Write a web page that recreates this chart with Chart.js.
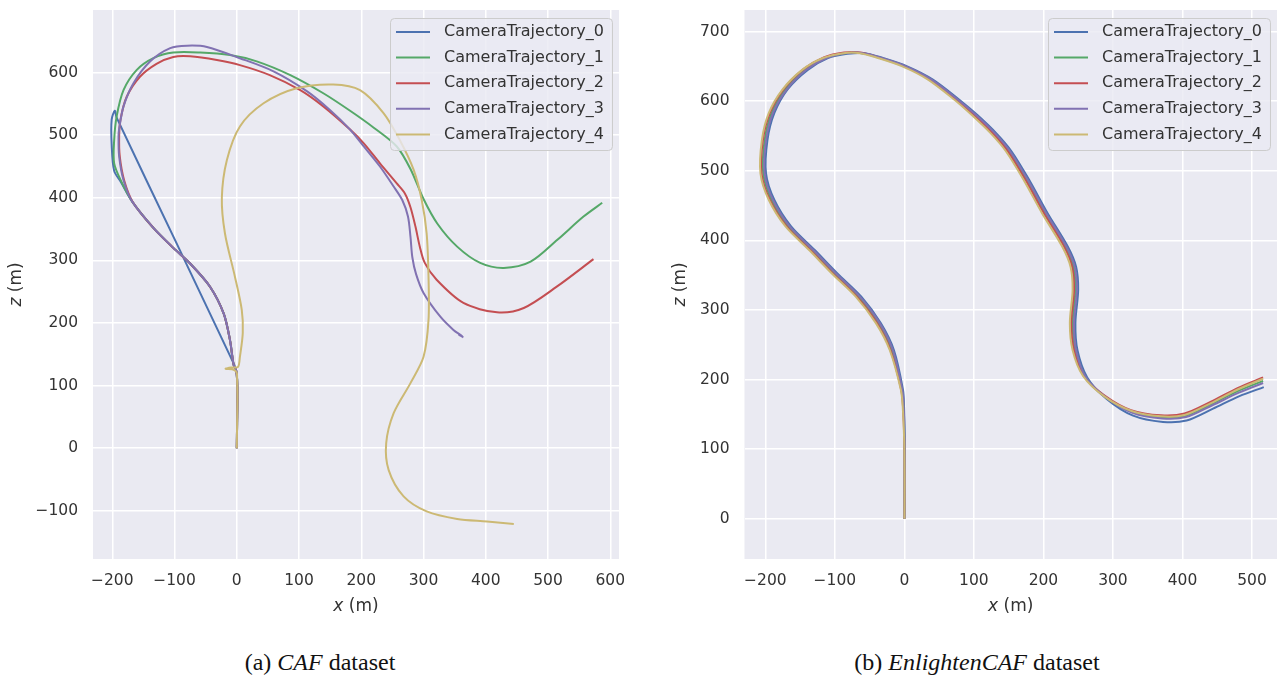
<!DOCTYPE html>
<html>
<head>
<meta charset="utf-8">
<script src="https://cdn.jsdelivr.net/npm/chart.js@4.4.1/dist/chart.umd.min.js"></script>
<style>
  body { margin: 0; background: #fff; width: 1277px; height: 675px; position: relative; overflow: hidden; }
  .panel { position: absolute; top: 0; height: 625px; }
  .caption { position: absolute; top: 649px; font-family: "Liberation Serif", serif; font-size: 24px; line-height: 26px; color: #111; transform: translateX(-50%); white-space: nowrap; }
</style>
</head>
<body>
<div class="panel" style="left:0;width:640px"><canvas id="cafChart" width="640" height="625"></canvas></div>
<div class="panel" style="left:640px;width:637px"><canvas id="enlChart" width="637" height="625"></canvas></div>
<div class="caption" style="left:320px">(a) <i>CAF</i> dataset</div>
<div class="caption" style="left:977px">(b) <i>EnlightenCAF</i> dataset</div>
<script>
const trajLabels = ["CameraTrajectory_0", "CameraTrajectory_1", "CameraTrajectory_2", "CameraTrajectory_3", "CameraTrajectory_4"];
const trajColors = ["#4C72B0", "#55A868", "#C44E52", "#8172B2", "#CCB974"];

const xTicksCaf = [-200, -100, 0, 100, 200, 300, 400, 500, 600];
const zTicksCaf = [-100, 0, 100, 200, 300, 400, 500, 600];
const xTicksEnl = [-200, -100, 0, 100, 200, 300, 400, 500];
const zTicksEnl = [0, 100, 200, 300, 400, 500, 600, 700];

// (a) CAF dataset, [x, z] in metres
const caf0 = [[0,0],[0.5,40],[1,80],[0.5,110],[-1,124],[-5,133],[-11,173],[-21,215],[-43,258],[-75,295],[-102,320],[-134,352],[-168,394],[-186,425],[-197,443],[-201,485],[-201,525],[-196,539],[-193,528],[-98,330],[-3,131]];
const caf1 = [[0,0],[0.5,40],[1,80],[0.5,110],[-1,124],[-5,133],[-11,173],[-21,215],[-43,258],[-75,295],[-102,320],[-134,352],[-168,394],[-185,425],[-197,455],[-197,492],[-193,530],[-182,572],[-161,604],[-134,623],[-102,632],[-59,632],[-11,628],[32,618],[86,596],[139,567],[182,539],[220,512],[257,482],[279,446],[300,398],[322,359],[354,322],[391,296],[429,288],[472,298],[515,333],[557,370],[587,392]];
const caf2 = [[0,0],[0.5,40],[1,80],[0.5,110],[-1,124],[-5,133],[-11,173],[-21,215],[-43,258],[-75,295],[-102,320],[-134,352],[-167,393],[-181,428],[-188,466],[-189,498],[-187,524],[-177,561],[-156,593],[-129,614],[-102,625],[-75,626],[-32,620],[5,612],[53,596],[102,572],[139,546],[182,509],[204,487],[230,455],[257,423],[270,407],[279,385],[287,354],[294,322],[302,296],[321,269],[364,232],[418,217],[461,224],[514,258],[573,302]];
const caf3 = [[0,0],[0.5,40],[1,80],[0.5,110],[-1,124],[-5,133],[-11,173],[-21,215],[-43,258],[-75,295],[-102,320],[-134,352],[-168,394],[-182,428],[-189,466],[-190,498],[-189,510],[-182,546],[-166,583],[-139,618],[-107,639],[-80,643],[-48,641],[5,623],[59,602],[113,570],[150,540],[182,509],[204,482],[230,450],[252,418],[266,396],[275,370],[279,338],[282,305],[288,278],[300,248],[327,210],[348,189],[362,179],[357,181],[364,177]];
const caf4 = [[0,0],[0.5,40],[1,80],[0.5,110],[0,120],[-4,125],[-18,127],[-8,129],[2,130],[5,146],[9.6,184],[8,221],[-3,274],[-19,343],[-24,400],[-16,460],[5,514],[43,551],[96,575],[155,581],[198,572],[236,535],[262,492],[284,445],[297,397],[305,343],[308,274],[308,205],[300,146],[279,104],[252,56],[240,8],[244,-35],[268,-77],[305,-101],[354,-113],[402,-117],[445,-121]];

// (b) EnlightenCAF dataset, [x, z] in metres
const enl0 = [[0,0],[0.3,50],[0.5,113],[-0.5,161],[-2,185],[-15,242],[-34,281],[-62,319],[-96,352],[-129,386],[-163,420],[-187,458],[-199,496],[-197,544],[-187,583],[-168,617],[-139,645],[-110,662],[-82,668],[-57,669],[-31,662],[4,650],[41,631],[79,602],[105,580],[132,554],[154,528],[180,486],[206,439],[235,391],[247,362],[250,329],[246,281],[249,242],[263,203],[291,172],[329,148],[372,139],[406,141],[444,158],[482,176],[517,189]];
const enl1 = [[0,0],[0.3,50],[0,113],[-1.4,161],[-3.7,185],[-18,242],[-37,281],[-66,319],[-100,352],[-133,386],[-167,420],[-191,458],[-203,496],[-201,544],[-191,583],[-172,616],[-143,645],[-114,662],[-85,669],[-61,669],[-35,662],[0,650],[37,631],[75,602],[101,580],[128,554],[150,528],[176,486],[202,439],[231,391],[243,362],[246,329],[242,281],[246,242],[260,204],[289,175],[327,154],[370,146],[404,148],[442,165],[481,184],[516,198]];
const enl2 = [[0,0],[0.3,50],[-0.2,113],[-2,161],[-4.5,185],[-20,242],[-39.5,281],[-68.5,319],[-102.5,352],[-135.5,386],[-169.5,420],[-193.5,458],[-205.5,496],[-203.5,544],[-193.5,583],[-174,617],[-145,646],[-116,663],[-87,670],[-63,670],[-37,663],[-2,651],[35,632],[73,603],[99,581],[126,555],[148,529],[174,487],[200,440],[229,392],[241,363],[244,329],[240,281],[244,242],[258,205],[288,177],[326,156],[369,148.5],[403,151],[441,168],[480,188],[516,203]];
const enl3 = [[0,0],[0.3,50],[0.2,113],[-1,161],[-3,185],[-16.5,242],[-35.5,281],[-64,319],[-98,352],[-131,386],[-165,420],[-189,458],[-201,496],[-199,544],[-189,583],[-170,616],[-141,645],[-112,662],[-84,669],[-59,669],[-33,662],[2,650],[39,631],[77,602],[103,580],[130,554],[152,528],[178,486],[204,439],[233,391],[245,362],[248,329],[244,281],[247,242],[261,203],[290,174],[328,152],[371,144],[405,146],[443,163],[481,181],[516,195]];
const enl4 = [[0,0],[0.3,50],[-0.3,113],[-2.4,161],[-5,185],[-21,242],[-41,281],[-70,319],[-104,352],[-137,386],[-171,420],[-195,458],[-207,496],[-205,544],[-195,583],[-176,616],[-147,645],[-117,662],[-88,669],[-64,669],[-38,662],[-3,650],[34,631],[72,602],[97,580],[124,554],[146,528],[172,486],[198,439],[227,391],[239,362],[242,329],[238,281],[242,242],[257,205],[287,176],[326,155],[369,147],[403,149],[441,166],[480,186],[516,201]];

Chart.defaults.font.family = "'DejaVu Sans', sans-serif";

function toPoints(arr) {
  return arr.map(p => ({ x: p[0], y: p[1] }));
}

function fmtTick(v) {
  return v < 0 ? "\u2212" + (-v) : String(v);
}

// light seaborn-like panel behind the grid
const axesBg = {
  id: "axesBg",
  beforeDraw(chart) {
    const a = chart.chartArea, ctx = chart.ctx;
    ctx.save();
    ctx.fillStyle = "#EAEAF2";
    ctx.fillRect(a.left, a.top, a.right - a.left, a.bottom - a.top);
    ctx.restore();
  }
};

// legend box inside the axes, upper right
const boxLegend = {
  id: "boxLegend",
  afterDatasetsDraw(chart) {
    const ctx = chart.ctx, a = chart.chartArea, sets = chart.data.datasets;
    ctx.save();
    ctx.font = "16px 'DejaVu Sans'";
    let maxW = 0;
    sets.forEach(d => { maxW = Math.max(maxW, ctx.measureText(d.label).width); });
    const w = 54 + maxW + 8, h = 132;
    const x0 = Math.round(a.right - 7 - w), y0 = Math.round(a.top + 8);
    ctx.beginPath();
    ctx.roundRect(x0 + 0.5, y0 + 0.5, w, h, 4);
    ctx.fillStyle = "rgba(234,234,242,0.8)";
    ctx.fill();
    ctx.strokeStyle = "#CCCCCC";
    ctx.lineWidth = 1;
    ctx.stroke();
    ctx.textBaseline = "middle";
    sets.forEach((d, i) => {
      const cy = y0 + 14 + i * 25.6;
      ctx.strokeStyle = d.borderColor;
      ctx.lineWidth = 2;
      ctx.beginPath();
      ctx.moveTo(x0 + 6, cy);
      ctx.lineTo(x0 + 40, cy);
      ctx.stroke();
      ctx.fillStyle = "#333333";
      ctx.fillText(d.label, x0 + 54, cy);
    });
    ctx.restore();
  }
};

// axis titles with an italic variable name, like matplotlib mathtext
function drawMixed(ctx, cx, cy, varName) {
  const f1 = "italic 17px 'DejaVu Sans'", f2 = "17px 'DejaVu Sans'";
  ctx.font = f1;
  const w1 = ctx.measureText(varName).width;
  ctx.font = f2;
  const w2 = ctx.measureText(" (m)").width;
  const start = cx - (w1 + w2) / 2;
  ctx.textBaseline = "middle";
  ctx.textAlign = "left";
  ctx.fillStyle = "#333333";
  ctx.font = f1;
  ctx.fillText(varName, start, cy);
  ctx.font = f2;
  ctx.fillText(" (m)", start + w1, cy);
}

const axisTitles = {
  id: "axisTitles",
  afterDraw(chart, args, opts) {
    const ctx = chart.ctx, a = chart.chartArea;
    ctx.save();
    drawMixed(ctx, (a.left + a.right) / 2, opts.xTitleY, "x");
    ctx.translate(opts.zTitleX, (a.top + a.bottom) / 2);
    ctx.rotate(-Math.PI / 2);
    drawMixed(ctx, 0, 0, "z");
    ctx.restore();
  }
};

function makeDatasets(series) {
  return series.map((arr, i) => ({
    label: trajLabels[i],
    data: toPoints(arr),
    borderColor: trajColors[i],
    backgroundColor: trajColors[i],
    borderWidth: 2,
    showLine: true,
    pointRadius: 0,
    fill: false,
    tension: 0.3,
    order: series.length - 1 - i
  }));
}

function makeChart(id, series, xTicks, zTicks, xr, zr, yAxisWidth, padLeft, padRight, titleOpts) {
  const ctx = document.getElementById(id).getContext("2d");
  return new Chart(ctx, {
    type: "scatter",
    data: { datasets: makeDatasets(series) },
    options: {
      responsive: false,
      animation: false,
      devicePixelRatio: 1,
      layout: { padding: { left: padLeft, top: 10, right: padRight, bottom: 0 } },
      plugins: {
        legend: { display: false },
        tooltip: { enabled: false },
        axisTitles: titleOpts
      },
      scales: {
        x: {
          type: "linear",
          min: xr[0],
          max: xr[1],
          grid: { color: "#FFFFFF", lineWidth: 1.5, drawTicks: false },
          border: { display: false },
          ticks: { color: "#333333", font: { size: 15.5 }, padding: 13, maxRotation: 0, autoSkip: false, callback: fmtTick },
          afterBuildTicks: s => { s.ticks = xTicks.map(v => ({ value: v })); },
          afterFit: s => { s.height = 66; s.paddingLeft = 0; s.paddingRight = 0; }
        },
        y: {
          type: "linear",
          min: zr[0],
          max: zr[1],
          grid: { color: "#FFFFFF", lineWidth: 1.5, drawTicks: false },
          border: { display: false },
          ticks: { color: "#333333", font: { size: 15.5 }, padding: 15, autoSkip: false, callback: fmtTick },
          afterBuildTicks: s => { s.ticks = zTicks.map(v => ({ value: v })); },
          afterFit: s => { s.width = yAxisWidth; s.paddingTop = 0; s.paddingBottom = 0; }
        }
      }
    },
    plugins: [axesBg, boxLegend, axisTitles]
  });
}

makeChart("cafChart", [caf0, caf1, caf2, caf3, caf4], xTicksCaf, zTicksCaf,
  [-231, 614], [-177, 700], 93, 0, 21, { xTitleY: 606.7, zTitleX: 17 });

makeChart("enlChart", [enl0, enl1, enl2, enl3, enl4], xTicksEnl, zTicksEnl,
  [-230, 536], [-58, 731], 81.5, 23, 0, { xTitleY: 606.7, zTitleX: 40.5 });
</script>
</body>
</html>
